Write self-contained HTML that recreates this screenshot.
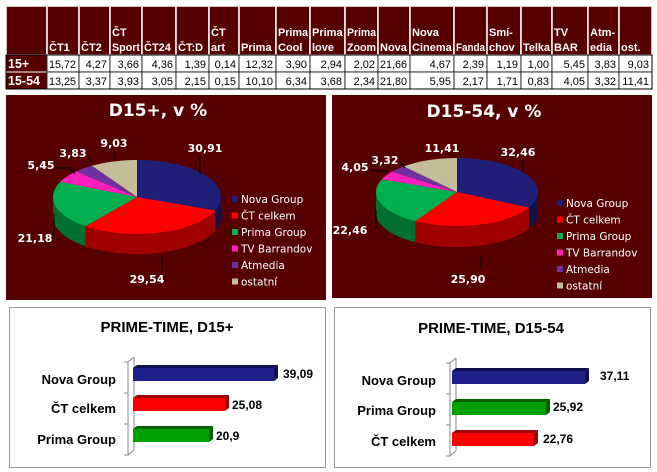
<!DOCTYPE html>
<html><head><meta charset="utf-8"><style>
body{margin:0;background:#fff;width:657px;height:472px;overflow:hidden;font-family:"Liberation Sans",sans-serif}
</style></head><body>
<svg id="s" width="657" height="472" xmlns="http://www.w3.org/2000/svg" style="position:absolute;left:0;top:0">
<g id="tbl"></g>
<rect x="6" y="95" width="320" height="205" fill="#560000"/>
<rect x="332" y="95" width="320" height="203" fill="#560000"/>
<g id="p1"></g><g id="p2"></g>
<g stroke="#000" fill="none" stroke-width="1">
<polyline points="200,156 200,174"/><polyline points="162,256 162,271"/><polyline points="54,238 54,213"/><polyline points="58,168 70,168 75,174"/><polyline points="88,157 92,162"/><polyline points="115,151 115,160"/>
<polyline points="523,160 523,172"/><polyline points="481,256 481,268"/><polyline points="376,229 376,210"/><polyline points="370,170 388,172"/><polyline points="400,162 405,168"/>
</g>
<rect x="9.5" y="307.5" width="316" height="160" fill="#fff" stroke="#999"/>
<rect x="334.5" y="307.5" width="316" height="160" fill="#fff" stroke="#999"/>
<g font-family="Liberation Sans, sans-serif" font-weight="bold" fill="#000">
<text x="167" y="332" font-size="15" text-anchor="middle">PRIME-TIME, D15+</text>
<text x="491" y="333" font-size="15" text-anchor="middle">PRIME-TIME, D15-54</text>
<g font-size="13" text-anchor="end">
<text x="116" y="384">Nova Group</text><text x="116" y="413">ČT celkem</text><text x="116" y="444">Prima Group</text>
<text x="436" y="385">Nova Group</text><text x="436" y="415">Prima Group</text><text x="436" y="446">ČT celkem</text>
</g>
<g font-size="12">
<text x="283" y="378">39,09</text><text x="232" y="409">25,08</text><text x="216" y="440">20,9</text>
<text x="600" y="380">37,11</text><text x="553" y="411">25,92</text><text x="543" y="443">22,76</text>
</g></g>
<g stroke="#888" fill="none">
<polyline points="124,362 128,362 128,455 124,455"/><line x1="124" y1="393" x2="128" y2="393"/><line x1="124" y1="424" x2="128" y2="424"/>
<line x1="128" y1="455" x2="134" y2="450"/><line x1="128" y1="362" x2="134" y2="357"/><line x1="134" y1="357" x2="134" y2="450"/>
<polyline points="446,363 450,363 450,456 446,456"/><line x1="446" y1="394" x2="450" y2="394"/><line x1="446" y1="425" x2="450" y2="425"/>
<line x1="450" y1="456" x2="456" y2="451"/><line x1="450" y1="363" x2="456" y2="358"/><line x1="456" y1="358" x2="456" y2="451"/>
</g>
<g id="bars"></g>
</svg>
<script>
const NS="http://www.w3.org/2000/svg";
function el(p,n,a,t){const e=document.createElementNS(NS,n);for(const k in a)e.setAttribute(k,a[k]);if(t!=null)e.textContent=t;p.appendChild(e);return e;}
function fit(t,w){try{const L=t.getComputedTextLength();if(L>w){t.setAttribute('textLength',w);t.setAttribute('lengthAdjust','spacingAndGlyphs');}}catch(e){}}
const T=document.getElementById('tbl');
const NF='Liberation Sans, sans-serif';
const xs=[6,47,79,110,142,176,209,239,276,310,345,378,410,454,487,521,552,588,619,652];
const hd=[[""],["ČT1"],["ČT2"],["ČT","Sport"],["ČT24"],["ČT:D"],["ČT","art"],["Prima"],["Prima","Cool"],["Prima","love"],["Prima","Zoom"],["Nova"],["Nova","Cinema"],["Fanda"],["Smí-","chov"],["Telka"],["TV","BAR"],["Atm-","edia"],["ost."]];
const r1=["15+","15,72","4,27","3,66","4,36","1,39","0,14","12,32","3,90","2,94","2,02","21,66","4,67","2,39","1,19","1,00","5,45","3,83","9,03"];
const r2=["15-54","13,25","3,37","3,93","3,05","2,15","0,15","10,10","6,34","3,68","2,34","21,80","5,95","2,17","1,71","0,83","4,05","3,32","11,41"];
const Y=[6,55,72,89];
for(let i=0;i<19;i++){
 const x0=xs[i],w=xs[i+1]-x0;
 el(T,'rect',{x:x0,y:6,width:w,height:49,fill:'#560000',stroke:'#fff','stroke-width':1.5});
 const h=hd[i];
 h.forEach((s,j)=>{const t=el(T,'text',{x:x0+2,y:h.length==2?(j?51:36):51,fill:'#fff','font-size':11,'font-weight':'bold','font-family':NF},s);fit(t,w-4);});
 [r1,r2].forEach((r,k)=>{
  const y=Y[k+1];
  if(i==0){el(T,'rect',{x:x0,y:y,width:w,height:17,fill:'#560000',stroke:'#fff'});el(T,'text',{x:x0+2,y:y+13,fill:'#fff','font-size':12.5,'font-weight':'bold','font-family':NF},r[i]);}
  else{el(T,'rect',{x:x0,y:y,width:w,height:17,fill:'#fff',stroke:'#000','stroke-width':0.8});const t=el(T,'text',{x:xs[i+1]-3,y:y+13,fill:'#000','font-size':11,'text-anchor':'end','font-family':NF},r[i]);fit(t,w-5);}
 });
}
el(T,'rect',{x:6,y:55,width:646,height:34,fill:'none',stroke:'#000'});
const cols=['#1f1f7a','#ff0000','#00b050','#ff1fbf','#7030a0','#c4bd97'];
const dark=['#12124a','#a00000','#007030','#b0108a','#4a1f70','#8a8466'];
const names=['Nova Group','ČT celkem','Prima Group','TV Barrandov','Atmedia','ostatní'];
function pie(g,cx,cy,rx,ry,d,vals,title,tx,ty,labels,lx,ly){
 const G=document.getElementById(g);
 const sum=vals.reduce((a,b)=>a+b,0);
 let a=0;const ang=vals.map(v=>{const s=a;a+=v/sum*2*Math.PI;return[s,a];});
 const P=t=>[cx+rx*Math.sin(t),cy-ry*Math.cos(t)];
 ang.forEach(([s,e],i)=>{
  const s2=Math.max(s,Math.PI/2),e2=Math.min(e,3*Math.PI/2);
  if(e2<=s2)return;
  let dstr='';const n=30;
  for(let k=0;k<=n;k++){const p=P(s2+(e2-s2)*k/n);dstr+=(k?'L':'M')+p[0]+','+p[1];}
  for(let k=n;k>=0;k--){const p=P(s2+(e2-s2)*k/n);dstr+='L'+p[0]+','+(p[1]+d);}
  el(G,'path',{d:dstr+'Z',fill:dark[i]});
 });
 ang.forEach(([s,e],i)=>{
  let dstr='M'+cx+','+cy;const n=40;
  for(let k=0;k<=n;k++){const p=P(s+(e-s)*k/n);dstr+='L'+p[0]+','+p[1];}
  el(G,'path',{d:dstr+'Z',fill:cols[i]});
 });
 el(G,'text',{x:tx,y:ty,fill:'#fff','font-size':17,'font-weight':'bold','text-anchor':'middle','font-family':'DejaVu Sans, sans-serif'},title);
 labels.forEach(l=>el(G,'text',{x:l[0],y:l[1],fill:'#fff','font-size':11,'font-weight':'bold','text-anchor':'middle','font-family':'DejaVu Sans, sans-serif'},l[2]));
 names.forEach((n,i)=>{const y=ly+i*16.5;el(G,'rect',{x:lx,y:y-7,width:6,height:6,fill:cols[i]});el(G,'text',{x:lx+9,y:y,fill:'#fff','font-size':10.5,'font-family':'DejaVu Sans, sans-serif'},n);});
}
pie('p1',137,197,84,37,20,[30.91,29.54,21.18,5.45,3.83,9.03],'D15+, v %',158,116,
 [[205,152,'30,91'],[147,283,'29,54'],[35,242,'21,18'],[41,169,'5,45'],[73,157,'3,83'],[114,147,'9,03']],232,203);
pie('p2',457,192,81,34,21,[32.46,25.90,22.46,4.05,3.32,11.41],'D15-54, v %',484,117,
 [[518,156,'32,46'],[468,283,'25,90'],[350,234,'22,46'],[355,171,'4,05'],[385,164,'3,32'],[442,152,'11,41']],557,207);
const B=document.getElementById('bars');
function bar(x,y,w,h,c,dc){
 el(B,'rect',{x:x,y:y,width:w,height:h,fill:c});
 el(B,'path',{d:`M${x},${y}L${x+4},${y-3}L${x+w+4},${y-3}L${x+w},${y}Z`,fill:dc});
 el(B,'path',{d:`M${x+w},${y}L${x+w+4},${y-3}L${x+w+4},${y+h-3}L${x+w},${y+h}Z`,fill:dc});
}
bar(133,368,141,13,'#1f1f8a','#101050');bar(133,398,92,13,'#ff0000','#a00000');bar(133,429,76,13,'#00a000','#006000');
bar(452,371,133,13,'#1f1f8a','#101050');bar(452,402,94,13,'#00a000','#006000');bar(452,433,82,13,'#ff0000','#a00000');
</script>
</body></html>
